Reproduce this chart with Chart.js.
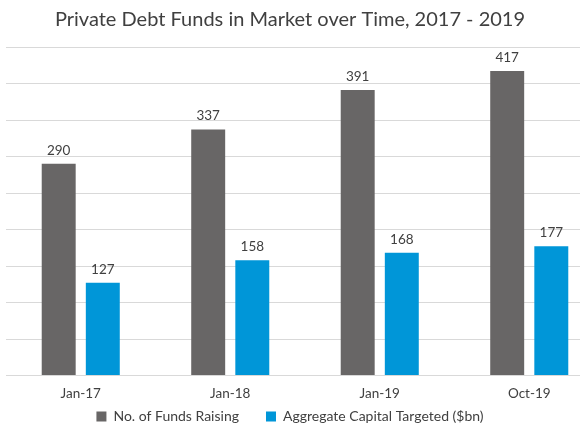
<!DOCTYPE html>
<html>
<head>
<meta charset="utf-8">
<script src="https://cdn.jsdelivr.net/npm/chart.js@4"></script>
<style>
  html, body { margin: 0; padding: 0; background: #fff; overflow: hidden; }
  #wrap { position: absolute; left: -24px; top: 0; width: 628px; height: 452px; }
</style>
</head>
<body>
<div id="wrap"><canvas id="chart"></canvas></div>
<script>
// values
const periods = ['Jan-17', 'Jan-18', 'Jan-19', 'Oct-19'];
const fundsRaising = [290, 337, 391, 417];
const capitalTargeted = [127, 158, 168, 177];
const seriesNames = ['No. of Funds Raising', 'Aggregate Capital Targeted ($bn)'];
const chartTitle = 'Private Debt Funds in Market over Time, 2017 - 2019';

const fontFamily = 'Lato, "Open Sans", sans-serif';

// numbers above the bars
const valueLabels = {
    id: 'valueLabels',
    afterDatasetsDraw(chart) {
        let ctx = chart.ctx;
        ctx.save();
        ctx.font = '13.5px ' + fontFamily;
        ctx.fillStyle = '#404040';
        ctx.textAlign = 'center';
        ctx.textBaseline = 'alphabetic';
        chart.data.datasets.forEach((ds, i) => {
            chart.getDatasetMeta(i).data.forEach((bar, j) => {
                ctx.fillText(ds.data[j], bar.x, bar.y - 9);
            });
        });
        ctx.restore();
    }
};

// pull the legend up a bit closer to the axis labels
const legendNudge = {
    id: 'legendNudge',
    afterLayout(chart) {
        chart.legend.top -= 18;
        chart.legend.bottom -= 18;
    }
};

function createChart() {
    let ctx = document.getElementById('chart').getContext('2d');

    window.bar = new Chart(ctx, {
        type: 'bar',
        data: {
            labels: periods,
            datasets: [{
                label: seriesNames[0],
                data: fundsRaising,
                backgroundColor: '#686666',
                borderWidth: 0
            }, {
                label: seriesNames[1],
                data: capitalTargeted,
                backgroundColor: '#0096d8',
                borderWidth: 0
            }]
        },
        options: {
            responsive: true,
            maintainAspectRatio: false,
            animation: false,
            categoryPercentage: 0.59,
            barPercentage: 0.77,
            layout: { padding: { left: 0, right: 0, top: 0, bottom: 0.5 } },
            plugins: {
                title: {
                    display: true,
                    text: chartTitle,
                    color: '#404040',
                    font: { family: fontFamily, size: 20, weight: 'normal' },
                    padding: { top: 8, bottom: 15 }
                },
                legend: {
                    position: 'bottom',
                    labels: {
                        color: '#404040',
                        font: { family: fontFamily, size: 14 },
                        boxWidth: 10,
                        boxHeight: 10,
                        padding: 27
                    }
                },
                tooltip: { enabled: false }
            },
            scales: {
                x: {
                    grid: { display: false, drawTicks: false },
                    border: { display: true, color: '#d9d9d9', width: 1 },
                    ticks: {
                        color: '#404040',
                        font: { family: fontFamily, size: 13.5 },
                        padding: 10
                    },
                    afterFit: (s) => { s.height = 25; }
                },
                y: {
                    min: 0,
                    max: 450,
                    ticks: { stepSize: 50, display: false },
                    grid: { color: '#d9d9d9', drawTicks: false },
                    border: { display: false },
                    afterFit: (s) => { s.width = 30; }
                }
            }
        },
        plugins: [valueLabels, legendNudge]
    });
}

createChart();
</script>
</body>
</html>
